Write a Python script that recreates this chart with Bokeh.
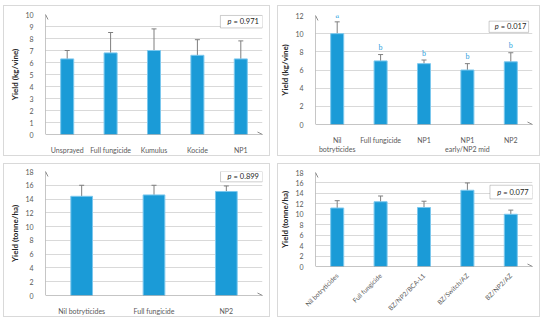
import math
from bokeh.plotting import figure
from bokeh.models import (ColumnDataSource, Whisker, TeeHead, Arrow, OpenHead, Label,
                          LabelSet, BoxAnnotation, FixedTicker, FactorRange, Range1d)
from bokeh.layouts import column, row
from bokeh.embed import file_html
from bokeh.resources import INLINE

# ---------------- data ----------------
a_cats = ["Unsprayed", "Full fungicide", "Kumulus", "Kocide", "NP1"]
a_vals = [6.3, 6.8, 7.0, 6.6, 6.3]
a_low = [5.6, 5.1, 5.2, 5.3, 4.8]
a_high = [7.0, 8.5, 8.8, 7.9, 7.8]
a_ticks = [0, 1, 2, 3, 4, 5, 6, 7, 8, 9, 10]
a_p = "= 0.971"

b_cats = ["Nil\nbotryticides", "Full fungicide", "NP1", "NP1\nearly/NP2 mid", "NP2"]
b_vals = [10.0, 7.0, 6.7, 6.0, 6.9]
b_low = [8.7, 6.3, 6.2, 5.3, 5.9]
b_high = [11.3, 7.7, 7.1, 6.7, 7.9]
b_letters = ["a", "b", "b", "b", "b"]
b_ticks = [0, 2, 4, 6, 8, 10, 12]
b_p = "= 0.017"

c_cats = ["Nil botryticides", "Full fungicide", "NP2"]
c_vals = [14.4, 14.6, 15.1]
c_low = [12.8, 13.2, 14.3]
c_high = [16.0, 16.0, 15.9]
c_ticks = [0, 2, 4, 6, 8, 10, 12, 14, 16, 18]
c_p = "= 0.899"

d_cats = ["Nil botryticides", "Full fungicide", "BZ/NP2/BCA-L1", "BZ/Switch/AZ", "BZ/NP2/AZ"]
d_vals = [11.2, 12.4, 11.3, 14.6, 10.0]
d_low = [9.8, 11.3, 10.1, 13.2, 9.2]
d_high = [12.6, 13.5, 12.5, 16.0, 10.8]
d_ticks = [0, 2, 4, 6, 8, 10, 12, 14, 16, 18]
d_p = "= 0.077"

FONT = "Lato"
BAR = "#1b9bd7"
BAR_EDGE = "#7cc8ee"
AXIS = "#8c8c8c"
ERR = "#7f7f7f"
TICKC = "#595959"


def panel(cats, vals, low, high, yticks, ytitle, tag, tag_xy, pval, pbox,
          w, h, mb, letters=None, rotate=False):
    n = len(cats)
    ymax = yticks[-1]
    p = figure(width=w, height=h, x_range=FactorRange(factors=cats),
               y_range=Range1d(0, ymax), output_backend="svg",
               toolbar_location=None,
               min_border_left=mb[0], min_border_right=mb[1],
               min_border_top=mb[2], min_border_bottom=mb[3],
               border_fill_color=None, background_fill_color="white",
               outline_line_color=None,
               styles={"outline": "1px solid #d9d9d9", "outline-offset": "-1px"})
    src = ColumnDataSource(dict(x=cats, top=vals, lower=low, upper=high))
    p.vbar(x="x", top="top", width=0.3, source=src, fill_color=BAR,
           line_color=BAR_EDGE, line_width=1)
    p.add_layout(Whisker(base="x", upper="upper", lower="lower", source=src,
                         line_color=ERR, line_width=1,
                         upper_head=TeeHead(size=5, line_color=ERR, line_width=1),
                         lower_head=TeeHead(size=5, line_color=ERR, line_width=1)))
    for ax in (p.xaxis, p.yaxis):
        ax.axis_line_color = None
        ax.major_tick_line_color = None
        ax.minor_tick_line_color = None
        ax.major_label_text_font = FONT
        ax.major_label_text_font_size = "7px"
        ax.major_label_text_color = TICKC
    p.yaxis.ticker = FixedTicker(ticks=yticks)
    p.yaxis.major_label_standoff = 6
    p.xaxis.major_label_standoff = 5
    p.yaxis.axis_label = ytitle
    p.yaxis.axis_label_text_font = FONT
    p.yaxis.axis_label_text_font_size = "8px"
    p.yaxis.axis_label_text_font_style = "bold"
    p.yaxis.axis_label_text_color = "#262626"
    p.yaxis.axis_label_standoff = 2
    if rotate:
        p.xaxis.major_label_orientation = math.pi / 4
        p.xaxis.major_label_standoff = 2
        p.xaxis.major_label_text_font_size = "6.5px"
    p.xgrid.grid_line_color = None
    p.ygrid.grid_line_color = "#d9d9d9"
    p.ygrid.ticker = FixedTicker(ticks=yticks)
    p.add_layout(Arrow(end=OpenHead(size=5, line_color=AXIS, line_width=1),
                       x_start=0, y_start=0, x_end=n, y_end=0,
                       line_color=AXIS, line_width=1))
    p.add_layout(Arrow(end=OpenHead(size=5, line_color=AXIS, line_width=1),
                       x_start=0, y_start=0, x_end=0, y_end=ymax,
                       line_color=AXIS, line_width=1))
    p.add_layout(Label(x=tag_xy[0], y=tag_xy[1], text=tag, text_font=FONT,
                       text_font_size="8.5px", text_font_style="bold",
                       text_color="black", text_align="center",
                       text_baseline="middle"))
    x0, x1, y0, y1 = pbox
    p.add_layout(BoxAnnotation(left=x0, right=x1, bottom=y0, top=y1,
                               fill_color="white", fill_alpha=1,
                               line_color="#595959", line_width=1))
    cx, cy = (x0 + x1) / 2, (y0 + y1) / 2
    p.add_layout(Label(x=cx, y=cy, x_offset=-14, text="p", text_font=FONT,
                       text_font_size="7.5px", text_font_style="italic",
                       text_color="#262626", text_align="left",
                       text_baseline="middle"))
    p.add_layout(Label(x=cx, y=cy, x_offset=-8, text=pval, text_font=FONT,
                       text_font_size="7.5px", text_color="#262626",
                       text_align="left", text_baseline="middle"))
    if letters:
        lsrc = ColumnDataSource(dict(x=cats, y=[v + 0.75 for v in high], t=letters))
        p.add_layout(LabelSet(x="x", y="y", text="t", source=lsrc, text_font=FONT,
                              text_font_size="8px", text_color="#2f9fe0",
                              text_align="center", text_baseline="middle"))
    return p


pa = panel(a_cats, a_vals, a_low, a_high, a_ticks, "Yield (kg/vine)", "(a)",
           (-0.53, 9.6), a_p, (4.03, 5.0, 8.88, 9.92), 267, 151, (42, 8, 9, 17))
pb = panel(b_cats, b_vals, b_low, b_high, b_ticks, "Yield (kg/vine)", "(b)",
           (-0.45, 11.28), b_p, (4.0, 4.91, 10.14, 11.38), 263, 151, (35, 8, 10, 25),
           letters=b_letters)
pc = panel(c_cats, c_vals, c_low, c_high, c_ticks, "Yield (tonne/ha)", "(c)",
           (-0.32, 17.1), c_p, (2.42, 3.0, 16.5, 18.0), 267, 154, (42, 7, 8, 19))
pd = panel(d_cats, d_vals, d_low, d_high, d_ticks, "Yield (tonne/ha)", "(d)",
           (-0.48, 17.6), d_p, (4.02, 5.0, 12.94, 15.56), 263, 154, (36, 8, 9, 49),
           rotate=True)

layout = row(column(pa, pc, spacing=7), column(pb, pd, spacing=7), spacing=7,
             margin=(5, 0, 0, 3))
open("out.html", "w").write(file_html(layout, INLINE))
